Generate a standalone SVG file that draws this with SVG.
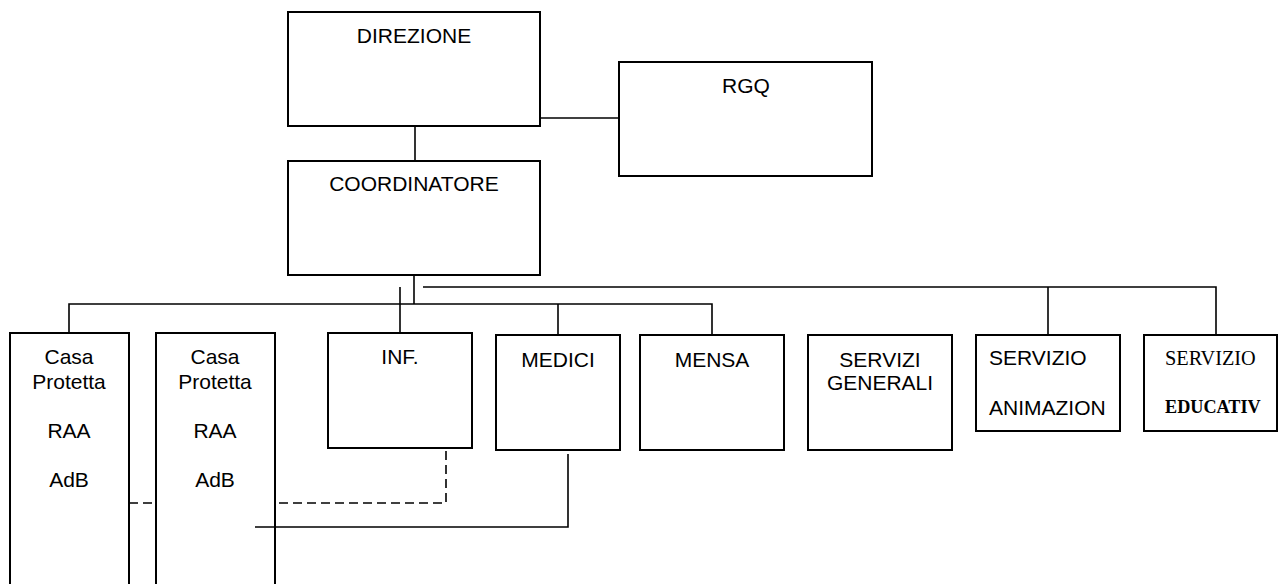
<svg xmlns="http://www.w3.org/2000/svg" width="1279" height="584" viewBox="0 0 1279 584">
<style>
.box{fill:#fff;stroke:#000;stroke-width:2}
.c{fill:none;stroke:#000;stroke-width:1.6}
.d{fill:none;stroke:#000;stroke-width:1.6;stroke-dasharray:9,5}
text{font-family:"Liberation Sans",Arial,sans-serif;font-size:21px;fill:#000}
.m{text-anchor:middle}
.t{font-family:"Liberation Serif","Times New Roman",serif;font-size:20.3px}
.tb{font-family:"Liberation Serif","Times New Roman",serif;font-size:18.2px;font-weight:bold}
</style>
<rect width="1279" height="584" fill="#fff"/>
<g id="direzione"><rect class="box" x="288" y="12" width="252" height="114"/><text class="m" x="414" y="43">DIREZIONE</text></g>
<g id="rgq"><rect class="box" x="619" y="62" width="253" height="114"/><text class="m" x="746" y="93">RGQ</text></g>
<g id="coordinatore"><rect class="box" x="288" y="161" width="252" height="114"/><text class="m" x="414" y="191">COORDINATORE</text></g>
<g id="casa1"><path class="box" d="M10,590 V333 H129 V590"/><text class="m" x="69" y="364">Casa</text><text class="m" x="69" y="389">Protetta</text><text class="m" x="69" y="438">RAA</text><text class="m" x="69" y="487">AdB</text></g>
<g id="casa2"><path class="box" d="M156,590 V333 H275 V590"/><text class="m" x="215" y="364">Casa</text><text class="m" x="215" y="389">Protetta</text><text class="m" x="215" y="438">RAA</text><text class="m" x="215" y="487">AdB</text></g>
<g id="inf"><rect class="box" x="328" y="333" width="144" height="115"/><text class="m" x="400" y="364">INF.</text></g>
<g id="medici"><rect class="box" x="496" y="335" width="124" height="115"/><text class="m" x="558" y="367">MEDICI</text></g>
<g id="mensa"><rect class="box" x="640" y="335" width="144" height="115"/><text class="m" x="712" y="367">MENSA</text></g>
<g id="servizi-generali"><rect class="box" x="808" y="335" width="144" height="115"/><text class="m" x="880" y="367">SERVIZI</text><text class="m" x="880" y="390">GENERALI</text></g>
<g id="servizio-animazion"><rect class="box" x="976" y="335" width="144" height="96"/><text x="989" y="365">SERVIZIO</text><text x="989" y="415">ANIMAZION</text></g>
<g id="servizio-educativ"><rect class="box" x="1144" y="335" width="133" height="96"/><text class="t" x="1165" y="365">SERVIZIO</text><text class="tb" x="1165" y="413">EDUCATIV</text></g>
<g id="connectors">
<line class="c" x1="540" y1="118" x2="619" y2="118"/>
<line class="c" x1="415" y1="126" x2="415" y2="161"/>
<polyline class="c" points="414,275 414,304"/>
<polyline class="c" points="69,333 69,304 712,304 712,335"/>
<line class="c" x1="558" y1="304" x2="558" y2="335"/>
<polyline class="c" points="423,287 1216,287 1216,335"/>
<line class="c" x1="1048" y1="287" x2="1048" y2="335"/>
<line class="c" x1="400" y1="287" x2="400" y2="333"/>
<line class="d" x1="129" y1="503" x2="156" y2="503"/>
<polyline class="d" points="279,503 446,503 446,448"/>
<polyline class="c" points="255,527 568,527 568,454"/>
</g>
</svg>
